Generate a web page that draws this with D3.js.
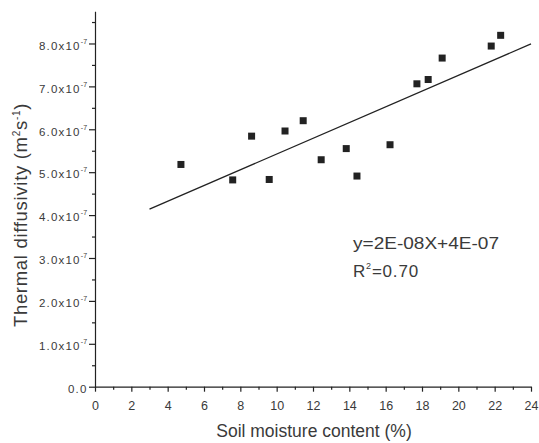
<!DOCTYPE html>
<html><head><meta charset="utf-8">
<script src="https://cdn.jsdelivr.net/npm/d3@7"></script>
<style>
body{margin:0;background:#fff;}
svg{display:block;font-family:"Liberation Sans",Arial,sans-serif;}
</style></head>
<body>
<script>
// Soil moisture content (%) and thermal diffusivity (x10^-7 m2 s-1)
const moisture = [4.73, 7.58, 8.62, 9.59, 10.46, 11.46, 12.45, 13.83, 14.42, 16.24, 17.72, 18.34, 19.11, 21.81, 22.33];
const diffusivity = [5.18, 4.82, 5.84, 4.83, 5.96, 6.20, 5.29, 5.55, 4.91, 5.64, 7.06, 7.16, 7.66, 7.94, 8.19];
// regression line endpoints
const fitX = [3, 24];
const fitY = [4.14, 7.99];
const xTicks = [0,2,4,6,8,10,12,14,16,18,20,22,24];
const yTicks = [0,1,2,3,4,5,6,7,8];
const yTickLabels = ["0.0","1.0x10","2.0x10","3.0x10","4.0x10","5.0x10","6.0x10","7.0x10","8.0x10"];
const equationText = "y=2E-08X+4E-07";
const r2Text = "=0.70";

const W = 539, H = 443;
const svg = d3.select("body").append("svg").attr("width", W).attr("height", H);
const x = d3.scaleLinear().domain([0, 24]).range([95, 531]);
const y = d3.scaleLinear().domain([0, 8.75]).range([386.7, 11.3]);
const ink = "#222";
const txt = "#3a3a3a";

// x axis major
const gx = svg.append("g").attr("transform", `translate(0,${y(0)})`)
  .call(d3.axisBottom(x).tickValues(xTicks).tickSize(5).tickSizeOuter(0).tickPadding(9).tickFormat(d3.format("d")));
// x minor
svg.append("g").attr("transform", `translate(0,${y(0)})`)
  .call(d3.axisBottom(x).tickValues(d3.range(1, 24, 2)).tickSize(3).tickFormat(""))
  .select(".domain").remove();
// y axis major
const gy = svg.append("g").attr("transform", `translate(${x(0)},0)`)
  .call(d3.axisLeft(y).tickValues(yTicks).tickSize(6).tickSizeOuter(0).tickPadding(1.5).tickFormat((d,i) => yTickLabels[i]));
svg.append("g").attr("transform", `translate(${x(0)},0)`)
  .call(d3.axisLeft(y).tickValues(d3.range(0.5, 8.75, 1)).tickSize(3).tickFormat(""))
  .select(".domain").remove();

svg.selectAll(".domain, .tick line").attr("stroke", ink).attr("stroke-width", 1.2);
gx.selectAll("text").attr("font-size", 12.5).attr("fill", txt).attr("font-family", "Liberation Sans, Arial, sans-serif");
gy.selectAll("text").attr("font-size", 11.5).attr("fill", txt).attr("font-family", "Liberation Sans, Arial, sans-serif")
  .attr("letter-spacing", 1.2).attr("dy", "0.5em")
  .each(function(d, i) {
    if (i > 0) {
      const t = d3.select(this);
      t.append("tspan").attr("font-size", 7).attr("letter-spacing", 0.3).attr("dy", -6).text("-7");
    }
  });

// y-axis label
const yl = svg.append("text").attr("transform", "translate(27,215) rotate(-90)")
  .attr("text-anchor", "middle").attr("font-size", 18.5).attr("letter-spacing", 0.7).attr("fill", txt);
yl.append("tspan").text("Thermal diffusivity (m");
yl.append("tspan").attr("font-size", 10).attr("dy", -7).text("2");
yl.append("tspan").attr("dy", 7).text("s");
yl.append("tspan").attr("font-size", 10).attr("dy", -7).text("-1");
yl.append("tspan").attr("dy", 7).text(")");

// x-axis label
svg.append("text").attr("x", 314).attr("y", 437).attr("text-anchor", "middle")
  .attr("font-size", 17.5).attr("fill", txt).text("Soil moisture content (%)");

// regression line
svg.append("line").attr("x1", x(fitX[0])).attr("y1", y(fitY[0]))
  .attr("x2", x(fitX[1])).attr("y2", y(fitY[1]))
  .attr("stroke", ink).attr("stroke-width", 1.3);

// points
const s = 7;
svg.selectAll("rect.pt").data(moisture).enter().append("rect").attr("class", "pt")
  .attr("x", (d) => x(d) - s/2).attr("y", (d, i) => y(diffusivity[i]) - s/2)
  .attr("width", s).attr("height", s).attr("fill", ink);

// equation
svg.append("text").attr("x", 353).attr("y", 249).attr("font-size", 17)
  .attr("textLength", 146).attr("lengthAdjust", "spacingAndGlyphs").attr("fill", txt).text(equationText);
const r2 = svg.append("text").attr("x", 353).attr("y", 277).attr("font-size", 17).attr("fill", txt)
  .attr("letter-spacing", 0.8);
r2.append("tspan").text("R");
r2.append("tspan").attr("font-size", 9).attr("dy", -8).text("2");
r2.append("tspan").attr("dy", 8).text(r2Text);
</script>
</body></html>
